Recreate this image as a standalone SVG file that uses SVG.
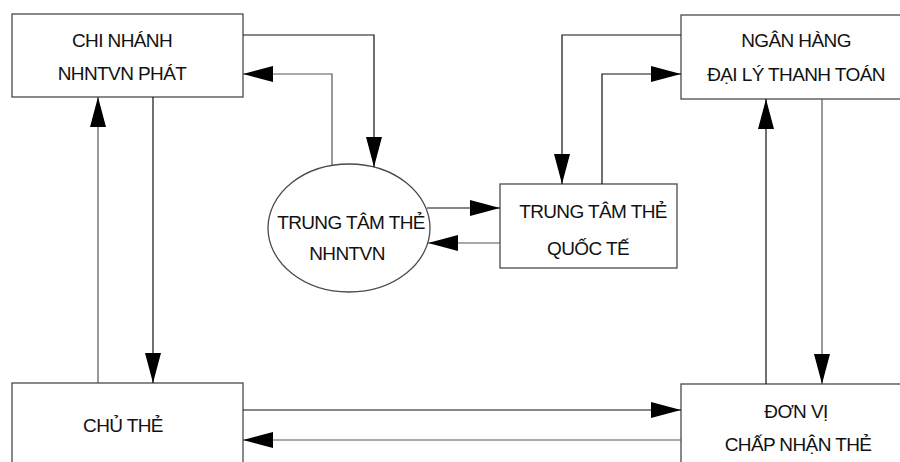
<svg xmlns="http://www.w3.org/2000/svg" width="900" height="462" viewBox="0 0 900 462">
  <style>
    .box { fill: #ffffff; stroke: #4a4a4a; stroke-width: 1.3; }
    .lbl { font-family: "Liberation Sans", Arial, sans-serif; font-size: 19px; letter-spacing: -0.6px; fill: #111111; text-anchor: middle; }
    .ln { fill: none; stroke: #111111; stroke-width: 1.2; }
    .ln.g { stroke: #555555; }
  </style>
  <defs>
    <marker id="arr" markerUnits="userSpaceOnUse" markerWidth="30" markerHeight="16" refX="30" refY="8" orient="auto">
      <path d="M0,0 L30,8 L0,16 z" fill="#000000"/>
    </marker>
  </defs>
  <rect width="900" height="462" fill="#ffffff"/>

  <!-- nodes -->
  <g id="chi-nhanh">
    <rect class="box" x="12" y="14" width="231" height="83"/>
    <text class="lbl" x="122" y="47">CHI NHÁNH</text>
    <text class="lbl" x="122" y="80">NHNTVN PHÁT</text>
  </g>
  <g id="chu-the">
    <rect class="box" x="12" y="383" width="231" height="100"/>
    <text class="lbl" x="123" y="432">CHỦ THẺ</text>
  </g>
  <g id="ngan-hang">
    <rect class="box" x="681" y="15" width="240" height="84"/>
    <text class="lbl" x="796" y="47">NGÂN HÀNG</text>
    <text class="lbl" x="796" y="81">ĐẠI LÝ THANH TOÁN</text>
  </g>
  <g id="don-vi">
    <rect class="box" x="681" y="384" width="240" height="100"/>
    <text class="lbl" x="796" y="418">ĐƠN VỊ</text>
    <text class="lbl" x="798" y="451">CHẤP NHẬN THẺ</text>
  </g>
  <g id="tt-nhntvn">
    <ellipse class="box" cx="349" cy="228" rx="81" ry="64" stroke="#222222" stroke-width="1"/>
    <text class="lbl" x="351" y="229">TRUNG TÂM THẺ</text>
    <text class="lbl" x="347" y="260">NHNTVN</text>
  </g>
  <g id="tt-quocte">
    <rect class="box" x="500" y="184" width="177" height="84"/>
    <text class="lbl" x="593" y="218">TRUNG TÂM THẺ</text>
    <text class="lbl" x="588" y="255">QUỐC TẾ</text>
  </g>

  <!-- connectors -->
  <g id="connectors">
    <path class="ln" d="M243,35 H374 V167" marker-end="url(#arr)"/>
    <path class="ln g" d="M332,165 V74 H243" marker-end="url(#arr)"/>
    <path class="ln" d="M153,97 V383" marker-end="url(#arr)"/>
    <path class="ln g" d="M98,383 V97" marker-end="url(#arr)"/>
    <path class="ln" d="M427,208 H500" marker-end="url(#arr)"/>
    <path class="ln g" d="M500,243 H428" marker-end="url(#arr)"/>
    <path class="ln" d="M681,35 H562 V184" marker-end="url(#arr)"/>
    <path class="ln" d="M602,184 V74 H681" marker-end="url(#arr)"/>
    <path class="ln" d="M766,384 V99" marker-end="url(#arr)"/>
    <path class="ln g" d="M822,99 V384" marker-end="url(#arr)"/>
    <path class="ln" d="M243,410 H681" marker-end="url(#arr)"/>
    <path class="ln g" d="M681,440 H243" marker-end="url(#arr)"/>
  </g>
</svg>
